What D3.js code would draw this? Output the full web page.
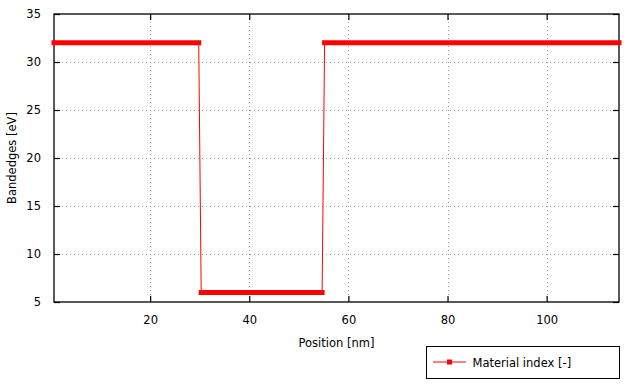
<!DOCTYPE html>
<html><head><meta charset="utf-8">
<script src="https://cdn.jsdelivr.net/npm/d3@7"></script>
<style>
body{margin:0;background:#fff;}
text{font-family:"DejaVu Sans",Verdana,sans-serif;font-size:11.5px;fill:#000;}
</style></head><body>
<svg id="c" width="640" height="384"></svg>
<script>
// Data: corner points of the material-index profile
const posX = [0.6, 29.8, 30.3, 54.7, 55.2, 114.6];
const bandY = [32, 32, 6, 6, 32, 32];
const xTicks = [20, 40, 60, 80, 100];
const yTicks = [5, 10, 15, 20, 25, 30, 35];
const seriesName = "Material index [-]";
const xTitle = "Position [nm]";
const yTitle = "Bandedges [eV]";

const L=54, R=619, T=14, B=302;
const svg=d3.select("#c");
const x=d3.scaleLinear().domain([0.6,114.6]).range([L,R]);
const y=d3.scaleLinear().domain([5,35]).range([B,T]);

// grid
const g=svg.append("g");
g.selectAll(".gx").data(xTicks).join("line")
 .attr("x1",d=>Math.round(x(d))+0.5).attr("x2",d=>Math.round(x(d))+0.5)
 .attr("y1",T).attr("y2",B).attr("stroke","#a0a0a0").attr("stroke-dasharray","1,3");
g.selectAll(".gy").data(yTicks.filter(d=>d>5&&d<35)).join("line")
 .attr("y1",d=>Math.round(y(d))+0.5).attr("y2",d=>Math.round(y(d))+0.5)
 .attr("x1",L).attr("x2",R).attr("stroke","#a0a0a0").attr("stroke-dasharray","1,3");

// axes with inward ticks
const ax=svg.append("g");
ax.append("g").attr("transform",`translate(0,${B})`).call(d3.axisBottom(x).tickValues(xTicks).tickSizeInner(-6).tickSizeOuter(0).tickPadding(14));
ax.append("g").attr("transform",`translate(0,${T})`).call(d3.axisTop(x).tickValues(xTicks).tickSizeInner(-6).tickSizeOuter(0).tickFormat(""));
ax.append("g").attr("transform",`translate(${L},0)`).call(d3.axisLeft(y).tickValues(yTicks).tickSizeInner(-6).tickSizeOuter(0).tickPadding(13));
ax.append("g").attr("transform",`translate(${R},0)`).call(d3.axisRight(y).tickValues(yTicks).tickSizeInner(-6).tickSizeOuter(0).tickFormat(""));
ax.selectAll(".domain").remove();
ax.selectAll("line").attr("stroke","#000").attr("stroke-width",1.2);
ax.selectAll("text").attr("font-size","11.5px").attr("font-family","DejaVu Sans").attr("fill","#000");
svg.append("rect").attr("x",L).attr("y",T).attr("width",R-L).attr("height",B-T)
 .attr("fill","none").attr("stroke","#000").attr("stroke-width",1.3);

// series
const pts=posX.map((v,i)=>[v,bandY[i]]);
svg.append("path").datum(pts).attr("d",d3.line().x(d=>x(d[0])).y(d=>y(d[1])))
 .attr("fill","none").attr("stroke","#ff0000").attr("stroke-width",1);
// dense markers form thick plateaus
const plateaus=[];
for(let i=0;i<pts.length-1;i++) if(pts[i][1]===pts[i+1][1]) plateaus.push([pts[i],pts[i+1]]);
svg.selectAll(".pl").data(plateaus).join("line")
 .attr("x1",d=>x(d[0][0])).attr("x2",d=>x(d[1][0]))
 .attr("y1",d=>y(d[0][1])).attr("y2",d=>y(d[1][1]))
 .attr("stroke","#ff0000").attr("stroke-width",5).attr("stroke-linecap","square");

// titles
svg.append("text").attr("x",(L+R)/2).attr("y",346.5).attr("text-anchor","middle").text(xTitle);
svg.append("text").attr("transform",`translate(16,${(T+B)/2}) rotate(-90)`).attr("text-anchor","middle").text(yTitle);

// legend
const lg=svg.append("g");
lg.append("rect").attr("x",426.5).attr("y",346.5).attr("width",193).attr("height",32).attr("fill","#fff").attr("stroke","#000").attr("stroke-width",1);
lg.append("line").attr("x1",433).attr("x2",466).attr("y1",362).attr("y2",362).attr("stroke","#ff0000").attr("stroke-width",1);
lg.append("rect").attr("x",447).attr("y",359.5).attr("width",5).attr("height",5).attr("fill","#ff0000");
lg.append("text").attr("x",472.5).attr("y",367).text(seriesName);
</script></body></html>
